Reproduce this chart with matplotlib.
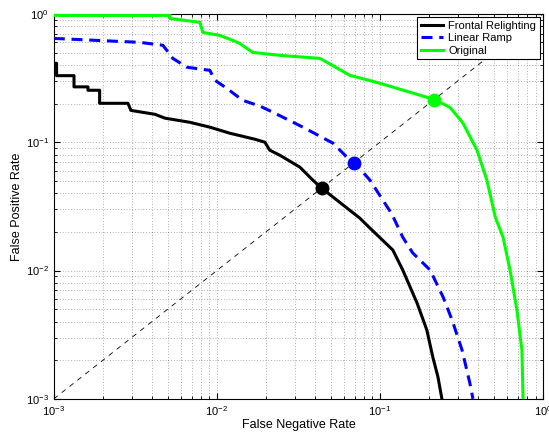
import matplotlib
matplotlib.use('Agg')
import matplotlib.pyplot as plt

plt.rcParams['font.family'] = ['Liberation Sans', 'DejaVu Sans']

# Frontal Relighting (black)
fr_fnr = [0.001, 0.00104, 0.00104, 0.00133, 0.00133, 0.00162, 0.00162, 0.00191, 0.00191,
          0.00285, 0.00297, 0.00417, 0.0048, 0.00682, 0.00906, 0.0120, 0.0171, 0.0197,
          0.0211, 0.0244, 0.0323, 0.0388, 0.044, 0.0753, 0.0869, 0.120, 0.138, 0.169,
          0.194, 0.211, 0.227, 0.240]
fr_fpr = [0.412, 0.412, 0.33, 0.33, 0.27, 0.27, 0.254, 0.254, 0.201,
          0.201, 0.177, 0.165, 0.154, 0.143, 0.131, 0.1175, 0.1055, 0.100,
          0.0867, 0.079, 0.0639, 0.0506, 0.0438, 0.0256, 0.0214, 0.01445, 0.0101, 0.00558,
          0.00344, 0.00212, 0.00148, 0.001]

# Linear Ramp (blue dashed)
lr_fnr = [0.001, 0.00337, 0.00467, 0.00537, 0.00655, 0.00906, 0.00973, 0.0115, 0.0144,
          0.0184, 0.0221, 0.0337, 0.0515, 0.0628, 0.0703, 0.0869, 0.1185, 0.138, 0.159,
          0.203, 0.244, 0.277, 0.319, 0.356, 0.372]
lr_fpr = [0.644, 0.60, 0.569, 0.45, 0.384, 0.363, 0.304, 0.263, 0.212,
          0.191, 0.171, 0.131, 0.0983, 0.0764, 0.0687, 0.0506, 0.0275, 0.0182, 0.0137,
          0.0101, 0.00622, 0.00412, 0.0024, 0.00133, 0.001]

# Original (green)
og_fnr = [0.001, 0.00515, 0.00515, 0.00787, 0.0082, 0.0104, 0.0125, 0.0138, 0.0166,
          0.0244, 0.0429, 0.0655, 0.1, 0.194, 0.214, 0.269, 0.323, 0.394, 0.453, 0.510,
          0.569, 0.628, 0.692, 0.743, 0.755]
og_fpr = [0.973, 0.973, 0.922, 0.859, 0.718, 0.68, 0.622, 0.589, 0.501,
          0.475, 0.45, 0.332, 0.288, 0.224, 0.216, 0.187, 0.141, 0.0867, 0.0506, 0.0261,
          0.0182, 0.0101, 0.00493, 0.0024, 0.001]

# equal error rate points
eer = {'Frontal Relighting': 0.044, 'Linear Ramp': 0.069, 'Original': 0.215}

fig = plt.figure(figsize=(5.49, 4.34), dpi=100)
ax = fig.add_axes([0.098, 0.081, 0.891, 0.887])

ax.plot([0.001, 1], [0.001, 1], color='black', linestyle=(0, (6, 6)), linewidth=0.6, zorder=2)

ax.plot(fr_fnr, fr_fpr, color='black', linewidth=2.2, label='Frontal Relighting', zorder=3)
ax.plot(lr_fnr, lr_fpr, color='#0000ff', linestyle=(0, (3.6, 2.2)), linewidth=2.2,
        label='Linear Ramp', zorder=3)
ax.plot(og_fnr, og_fpr, color='#00ff00', linewidth=2.2, label='Original', zorder=3)

ax.plot(eer['Frontal Relighting'], eer['Frontal Relighting'], 'o', color='black', markersize=9, zorder=4)
ax.plot(eer['Linear Ramp'], eer['Linear Ramp'], 'o', color='#0000ff', markersize=9, zorder=4)
ax.plot(eer['Original'], eer['Original'], 'o', color='#00ff00', markersize=9, zorder=4)

ax.set_xscale('log')
ax.set_yscale('log')
ax.set_xlim(0.001, 1)
ax.set_ylim(0.001, 1)

ax.grid(True, which='both', linestyle=(0, (1, 3)), color='black', linewidth=0.5, alpha=0.6)
ax.tick_params(which='both', direction='in', top=True, right=True, labelsize=8)
ax.tick_params(which='major', length=4)
ax.tick_params(which='minor', length=2)

ax.set_xlabel('False Negative Rate', fontsize=9, labelpad=1)
ax.set_ylabel('False Positive Rate', fontsize=9, labelpad=2)

leg = ax.legend(loc='upper right', fontsize=8, fancybox=False, edgecolor='black',
                framealpha=1, handlelength=2.0, handletextpad=0.5, borderaxespad=0.3,
                borderpad=0.3, labelspacing=0.25)
leg.get_frame().set_linewidth(0.8)
leg.set_zorder(5)

plt.savefig('out.png', dpi=100)
